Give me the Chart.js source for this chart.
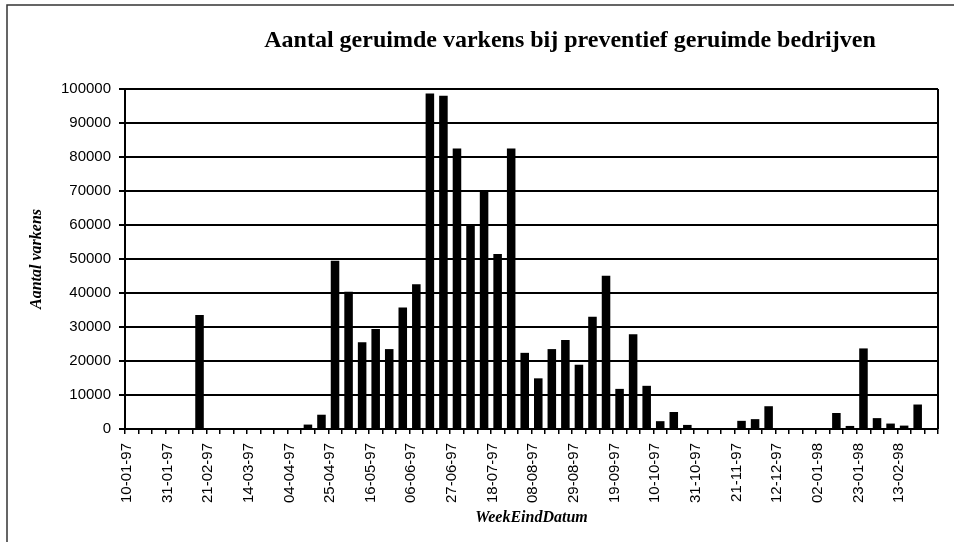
<!DOCTYPE html>
<html>
<head>
<meta charset="utf-8">
<script src="https://cdn.jsdelivr.net/npm/chart.js@4.4.1/dist/chart.umd.min.js"></script>
<style>
    html, body { margin: 0; padding: 0; background: #fff; }
    #wrap { width: 954px; height: 542px; position: relative; }
</style>
</head>
<body>
<div id="wrap"><canvas id="varkensChart"></canvas></div>
<script>
// week-end dates (one per bar)
var weekDates = [
    "10-01-97", "17-01-97", "24-01-97", "31-01-97", "07-02-97", "14-02-97", "21-02-97", "28-02-97",
    "07-03-97", "14-03-97", "21-03-97", "28-03-97", "04-04-97", "11-04-97", "18-04-97", "25-04-97",
    "02-05-97", "09-05-97", "16-05-97", "23-05-97", "30-05-97", "06-06-97", "13-06-97", "20-06-97",
    "27-06-97", "04-07-97", "11-07-97", "18-07-97", "25-07-97", "01-08-97", "08-08-97", "15-08-97",
    "22-08-97", "29-08-97", "05-09-97", "12-09-97", "19-09-97", "26-09-97", "03-10-97", "10-10-97",
    "17-10-97", "24-10-97", "31-10-97", "07-11-97", "14-11-97", "21-11-97", "28-11-97", "05-12-97",
    "12-12-97", "19-12-97", "26-12-97", "02-01-98", "09-01-98", "16-01-98", "23-01-98", "30-01-98",
    "06-02-98", "13-02-98", "20-02-98", "27-02-98"
];

// number of pigs culled per week
var aantalVarkens = [
    0, 0, 0, 0, 0, 33500, 0, 0,
    0, 0, 0, 0, 0, 1300, 4200, 49500,
    40400, 25500, 29400, 23500, 35700, 42600, 98700, 98000,
    82500, 59800, 70100, 51500, 82500, 22400, 14900, 23500,
    26200, 18900, 33000, 45100, 11800, 27900, 12700, 2300,
    5000, 1200, 0, 0, 0, 2400, 2900, 6700,
    0, 0, 0, 0, 4700, 900, 23700, 3200,
    1600, 1000, 7200, 0
];

// only every third week gets a label
var shownLabels = [
    "10-01-97", "31-01-97", "21-02-97", "14-03-97", "04-04-97", "25-04-97", "16-05-97",
    "06-06-97", "27-06-97", "18-07-97", "08-08-97", "29-08-97", "19-09-97", "10-10-97",
    "31-10-97", "21-11-97", "12-12-97", "02-01-98", "23-01-98", "13-02-98"
];

var yTicks = [0, 10000, 20000, 30000, 40000, 50000, 60000, 70000, 80000, 90000, 100000];

const TITLE = "Aantal geruimde varkens bij preventief geruimde bedrijven";

// title + frame drawn by hand (title sits right of centre in the original)
const frameAndTitle = {
    id: 'frameAndTitle',
    afterDraw(chart) {
        var ctx = chart.ctx;
        var area = chart.chartArea;
        ctx.save();
        ctx.strokeStyle = '#000';
        ctx.lineWidth = 2;
        ctx.beginPath();
        ctx.moveTo(area.right, area.top);
        ctx.lineTo(area.right, area.bottom);
        ctx.stroke();

        ctx.strokeStyle = '#333';
        ctx.lineWidth = 1.5;
        ctx.beginPath();
        ctx.moveTo(954, 5);
        ctx.lineTo(7, 5);
        ctx.lineTo(7, 542);
        ctx.stroke();

        ctx.fillStyle = '#000';
        ctx.font = 'bold 24px "Liberation Serif"';
        ctx.textAlign = 'center';
        ctx.textBaseline = 'middle';
        ctx.fillText(TITLE, 570, 41);
        ctx.restore();
    }
};

var ctx = document.getElementById("varkensChart").getContext("2d");

var varkensChart = new Chart(ctx, {
    type: 'bar',
    data: {
        labels: weekDates,
        datasets: [{
            label: 'Aantal varkens',
            data: aantalVarkens,
            backgroundColor: '#000',
            borderWidth: 0,
            barPercentage: 0.63,
            categoryPercentage: 1.0
        }]
    },
    options: {
        responsive: true,
        maintainAspectRatio: false,
        animation: false,
        layout: {
            padding: { top: 89, left: 20, right: 16, bottom: 12 }
        },
        plugins: {
            legend: { display: false },
            tooltip: { enabled: false },
            title: { display: false }
        },
        scales: {
            x: {
                afterFit: function(scale) {
                    scale.height = 101;
                    scale.paddingLeft = 0;
                    scale.paddingRight = 0;
                },
                grid: {
                    display: true,
                    drawOnChartArea: false,
                    drawTicks: true,
                    tickLength: 5,
                    color: '#000',
                    lineWidth: 1.5
                },
                border: { display: true, color: '#000', width: 2 },
                ticks: {
                    autoSkip: false,
                    minRotation: 90,
                    maxRotation: 90,
                    padding: 9,
                    labelOffset: -5,
                    color: '#000',
                    font: { family: '"Liberation Sans", Arial', size: 15 },
                    callback: function(value, index) {
                        var lbl = weekDates[index];
                        return shownLabels.indexOf(lbl) >= 0 ? lbl : '';
                    }
                },
                title: {
                    display: true,
                    text: 'WeekEindDatum',
                    color: '#000',
                    font: { family: '"Liberation Serif"', size: 16, style: 'italic', weight: 'bold' },
                    padding: { top: 0, bottom: 3 }
                }
            },
            y: {
                min: 0,
                max: 100000,
                afterFit: function(scale) { scale.width = 105; },
                afterBuildTicks: function(scale) {
                    scale.ticks = yTicks.map(v => ({ value: v }));
                },
                grid: {
                    color: '#000',
                    lineWidth: 2,
                    tickLength: 6
                },
                border: { display: true, color: '#000', width: 2 },
                ticks: {
                    padding: 8,
                    color: '#000',
                    font: { family: '"Liberation Sans", Arial', size: 15 },
                    callback: function(value) { return String(value); }
                },
                title: {
                    display: true,
                    text: 'Aantal varkens',
                    color: '#000',
                    font: { family: '"Liberation Serif"', size: 16, style: 'italic', weight: 'bold' },
                    padding: { top: 7, bottom: 0 }
                }
            }
        }
    },
    plugins: [frameAndTitle]
});
</script>
</body>
</html>
